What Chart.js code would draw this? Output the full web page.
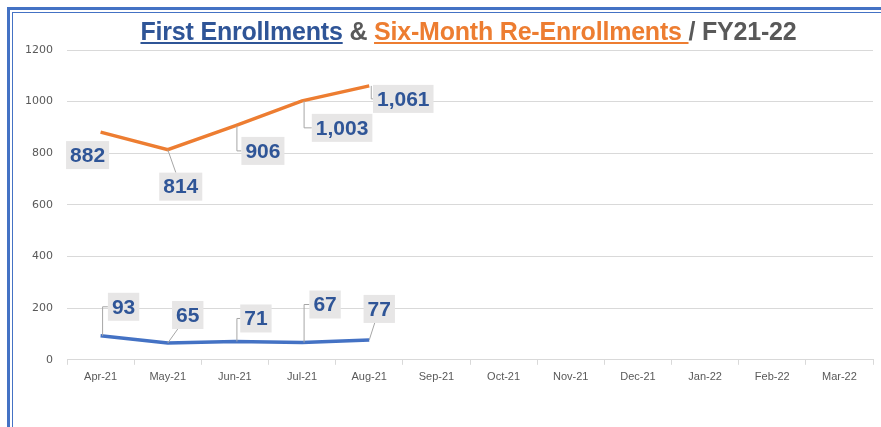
<!DOCTYPE html>
<html>
<head>
<meta charset="utf-8">
<script src="https://cdn.jsdelivr.net/npm/chart.js@4.4.0/dist/chart.umd.min.js"></script>
<style>
  body { margin: 0; background: #fff; }
  #wrap { position: relative; width: 881px; height: 427px; overflow: hidden; background: #fff; }
  .bt1 { position: absolute; left: 7px; top: 7px; right: 0; height: 3px; background: #4472C4; }
  .bt2 { position: absolute; left: 12px; top: 12px; right: 0; height: 1px; background: #4472C4; }
  .bl1 { position: absolute; left: 7px; top: 7px; bottom: 0; width: 3px; background: #4472C4; }
  .bl2 { position: absolute; left: 12px; top: 12px; bottom: 0; width: 1px; background: #4472C4; }
  #title {
    position: absolute; left: 56px; right: 0; top: 17px; text-align: center;
    font-family: "Liberation Sans", Arial, sans-serif;
    font-weight: bold; font-size: 25px; color: #595959; white-space: pre;
    letter-spacing: -0.2px;
  }
  #title .blue { color: #2F5597; text-decoration: underline; text-decoration-color: #2F5597; }
  #title .orange { color: #ED7D31; text-decoration: underline; text-decoration-color: #ED7D31; }
  #chartBox { position: absolute; left: 0; top: 0; width: 881px; height: 427px; }
</style>
</head>
<body>
<div id="wrap">
  <div class="bt1"></div><div class="bt2"></div><div class="bl1"></div><div class="bl2"></div>
  <div id="chartBox"><canvas id="enrollChart"></canvas></div>
  <div id="title"><span class="blue">First Enrollments</span> &amp; <span class="orange">Six-Month Re-Enrollments </span>/ FY21-22</div>
</div>
<script>
const months = ['Apr-21', 'May-21', 'Jun-21', 'Jul-21', 'Aug-21', 'Sep-21', 'Oct-21', 'Nov-21', 'Dec-21', 'Jan-22', 'Feb-22', 'Mar-22'];
const firstEnrollments = [93, 65, 71, 67, 77, null, null, null, null, null, null, null];
const reEnrollments = [882, 814, 906, 1003, 1061, null, null, null, null, null, null, null];
const yTicks = [0, 200, 400, 600, 800, 1000, 1200];

// where each data label box sits relative to its point (dx, dy, leader type)
const labelPlace = [
  [[-13, 23, 'none'], [13, 37, 'line'], [28, 25, 'elbow'], [40, 27, 'elbow'], [34, 13, 'elbow']],
  [[23, -29, 'elbow'], [20, -28, 'line'], [21, -23, 'elbow'], [23, -38, 'elbow'], [10, -31, 'line']]
];

const boxLabels = {
  id: 'boxLabels',
  afterDatasetsDraw(chart) {
    const c = chart.ctx;
    c.save();
    c.font = 'bold 21px "Liberation Sans", Arial, sans-serif';
    c.textAlign = 'center';
    c.textBaseline = 'middle';
    chart.data.datasets.forEach((ds, di) => {
      const meta = chart.getDatasetMeta(di);
      meta.data.forEach((pt, i) => {
        const v = ds.data[i];
        if (v == null) return;
        const place = labelPlace[di][i];
        const txt = v.toLocaleString('en-US');
        const w = c.measureText(txt).width + 8;
        const h = 28;
        const cx = pt.x + place[0], cy = pt.y + place[1];
        const x0 = cx - w / 2, y0 = cy - h / 2;
        // leader line
        c.strokeStyle = '#A6A6A6';
        c.lineWidth = 1;
        if (place[2] === 'elbow') {
          c.beginPath();
          c.moveTo(pt.x + 2, pt.y);
          c.lineTo(pt.x + 2, cy);
          c.lineTo(x0, cy);
          c.stroke();
        } else if (place[2] === 'line') {
          const dx = cx - pt.x, dy = cy - pt.y;
          const t = 1 - Math.min((w / 2) / Math.abs(dx || 1e-6), (h / 2) / Math.abs(dy || 1e-6));
          c.beginPath();
          c.moveTo(pt.x, pt.y);
          c.lineTo(pt.x + dx * t, pt.y + dy * t);
          c.stroke();
        }
        c.fillStyle = '#E7E6E6';
        c.fillRect(x0, y0, w, h);
        c.fillStyle = '#2F5597';
        c.fillText(txt, cx, cy + 1);
      });
    });
    c.restore();
  }
};

const ctx = document.getElementById('enrollChart');
new Chart(ctx.getContext('2d'), {
  type: 'line',
  data: {
    labels: months,
    datasets: [
      {
        label: 'Six-Month Re-Enrollments',
        data: reEnrollments,
        borderColor: '#ED7D31',
        borderWidth: 3.5,
        pointRadius: 0,
        tension: 0,
        spanGaps: false
      },
      {
        label: 'First Enrollments',
        data: firstEnrollments,
        borderColor: '#4472C4',
        borderWidth: 3.5,
        pointRadius: 0,
        tension: 0,
        spanGaps: false
      }
    ]
  },
  options: {
    responsive: true,
    maintainAspectRatio: false,
    animation: false,
    layout: { padding: { left: 0, right: 8, top: 50, bottom: 37 } },
    plugins: {
      legend: { display: false },
      tooltip: { enabled: false }
    },
    scales: {
      x: {
        offset: true,
        grid: {
          offset: true,
          drawOnChartArea: false,
          drawTicks: true,
          tickLength: 5,
          color: '#D9D9D9'
        },
        border: { color: '#D9D9D9' },
        ticks: {
          padding: 6,
          maxRotation: 0,
          autoSkip: false,
          color: '#595959',
          font: { family: '"Liberation Sans Narrow", "Arial Narrow", sans-serif', size: 11 }
        }
      },
      y: {
        min: 0,
        max: 1200,
        afterBuildTicks: axis => { axis.ticks = yTicks.map(v => ({ value: v })); },
        afterFit: axis => { axis.width = 67; },
        grid: { color: '#D9D9D9', drawTicks: false },
        border: { display: false },
        ticks: {
          padding: 14,
          color: '#595959',
          callback: v => String(v),
          font: { family: '"DejaVu Sans", sans-serif', size: 11 }
        }
      }
    }
  },
  plugins: [boxLabels]
});
</script>
</body>
</html>
